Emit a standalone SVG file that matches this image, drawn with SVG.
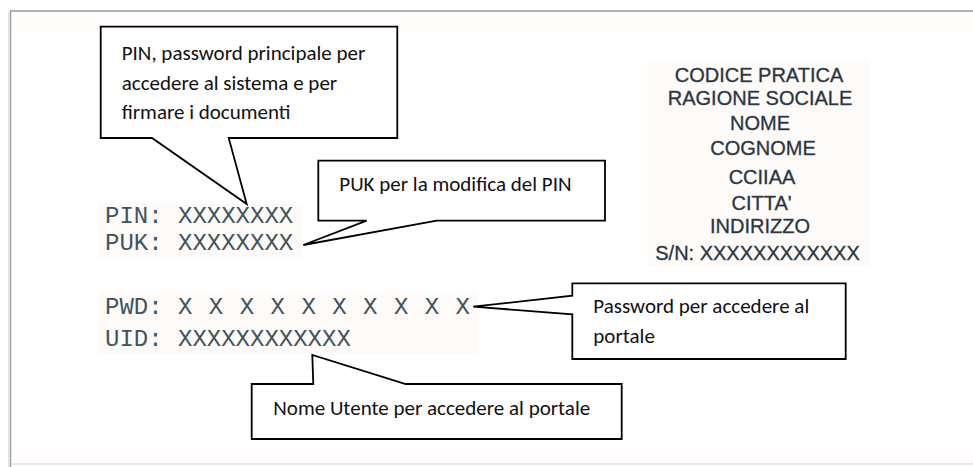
<svg xmlns="http://www.w3.org/2000/svg" width="973" height="467" viewBox="0 0 973 467">
  <style>
    .callout { fill: #ffffff; stroke: #000000; stroke-width: 1.8; stroke-linejoin: miter; }
    .ctext { font-family: Carlito, Lato, "Open Sans", sans-serif; font-size: 21px; fill: #111111; }
    .mono { font-family: "Liberation Mono", "Courier New", monospace; font-size: 24px; fill: #3e5560; }
    .info { font-family: "Liberation Sans", Arial, sans-serif; font-size: 20px; fill: #26333c; stroke: #3a4a55; stroke-width: 0.35; text-anchor: middle; }
    .glow { fill: #fefaf8; }
  </style>
  <rect x="0" y="0" width="973" height="467" fill="#ffffff"/>
  <!-- card frame -->
  <g id="frame">
    <rect x="11" y="12" width="962" height="20" fill="#fffcfb"/>
    <rect x="11" y="450" width="962" height="13" fill="#fffcfb"/>
    <line x1="10" y1="11" x2="973" y2="11" stroke="#a9b5bd" stroke-width="2"/>
    <line x1="10.5" y1="10" x2="10.5" y2="467" stroke="#8ea7b8" stroke-width="1.6"/>
    <line x1="8.5" y1="12" x2="8.5" y2="467" stroke="#f6ddd4" stroke-width="1"/>
    <line x1="11" y1="464" x2="973" y2="464" stroke="#e8e8e8" stroke-width="2"/>
  </g>
  <!-- printed codes -->
  <g id="codes">
    <rect class="glow" x="98" y="203" width="205" height="56"/>
    <rect class="glow" x="98" y="292" width="380" height="62"/>
    <text class="mono" x="105" y="223">PIN:</text>
    <text class="mono" x="178" y="223">XXXXXXXX</text>
    <text class="mono" x="105" y="250">PUK:</text>
    <text class="mono" x="178" y="250">XXXXXXXX</text>
    <text class="mono" x="105" y="314">PWD:</text>
    <text class="mono" x="178" y="314" textLength="292" lengthAdjust="spacing">X X X X X X X X X X</text>
    <text class="mono" x="105" y="346">UID:</text>
    <text class="mono" x="178" y="346">XXXXXXXXXXXX</text>
  </g>
  <g id="info">
    <rect class="glow" x="648" y="60" width="222" height="206"/>
    <text class="info" x="759" y="82">CODICE PRATICA</text>
    <text class="info" x="760" y="105">RAGIONE SOCIALE</text>
    <text class="info" x="760" y="130">NOME</text>
    <text class="info" x="763" y="155">COGNOME</text>
    <text class="info" x="762" y="183.5">CCIIAA</text>
    <text class="info" x="761.5" y="209.5">CITTA'</text>
    <text class="info" x="760" y="233">INDIRIZZO</text>
    <text class="info" x="757.5" y="259.5">S/N: XXXXXXXXXXXX</text>
  </g>
  <!-- callouts (tail is part of each callout shape) -->
  <g id="connectors"></g>
  <g id="callout-pin">
    <path class="callout" d="M100.7,26.7 H397.3 V138 H228.7 L246.7,204 L152,138 H100.7 Z"/>
    <text class="ctext" x="121.7" y="60">PIN, password principale per</text>
    <text class="ctext" x="121.7" y="89.5">accedere al sistema e per</text>
    <text class="ctext" x="121.7" y="118.5">firmare i documenti</text>
  </g>
  <g id="callout-puk">
    <path class="callout" d="M318.3,160.7 H605 V220.7 H436.7 L303.3,245 L366.7,220.7 H318.3 Z"/>
    <text class="ctext" x="339.3" y="191">PUK per la modifica del PIN</text>
  </g>
  <g id="callout-pwd">
    <path class="callout" d="M572.3,283.3 H845.7 V359 H572.3 V314.3 L473.3,306.7 L572.3,295.7 Z"/>
    <text class="ctext" x="593.3" y="313.3">Password per accedere al</text>
    <text class="ctext" x="593.3" y="342.5">portale</text>
  </g>
  <g id="callout-uid">
    <path class="callout" d="M251.7,384 H313.3 L312.3,355 L405.7,384 H621.7 V439 H251.7 Z"/>
    <text class="ctext" x="273.3" y="415">Nome Utente per accedere al portale</text>
  </g>
</svg>
